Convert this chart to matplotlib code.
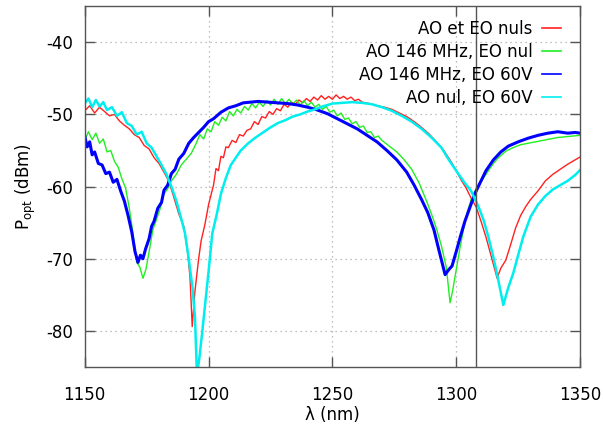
import matplotlib
matplotlib.use("Agg")
import matplotlib.pyplot as plt

plt.rcParams['font.family'] = ['DejaVu Sans']
plt.rcParams['axes.unicode_minus'] = False

labels = ["AO et EO nuls", "AO 146 MHz, EO nul", "AO 146 MHz, EO 60V", "AO nul, EO 60V"]

red_pts = [(1150, -49.5), (1152, -48.8), (1154, -49.8), (1156, -49.0), (1158, -49.6), (1160, -50.2),
           (1162, -50.0), (1164, -50.9), (1166, -51.5), (1168, -52.0), (1170, -52.8), (1172, -53.2),
           (1174, -54.3), (1176, -54.8), (1178, -56.0), (1180, -56.8), (1182, -58.0), (1184, -59.3),
           (1186, -61.5), (1188, -63.8), (1190, -65.5), (1191.5, -69.0), (1192.5, -72.5), (1193.4, -79.4),
           (1194.5, -74.5), (1196, -70.0), (1197, -67.5), (1198.5, -65.3), (1200, -62.5),
           (1202, -59.8), (1203, -57.5), (1204, -57.8), (1205, -55.8), (1206, -56.0), (1207, -54.5),
           (1208, -54.6), (1209.5, -53.6), (1211, -53.9), (1212.5, -52.8), (1214, -53.0), (1215.5, -52.2),
           (1217, -52.0), (1218.5, -51.0), (1220, -51.4), (1221.5, -50.3), (1223, -50.5), (1224.5, -49.6),
           (1226, -50.0), (1227.5, -49.2), (1229, -49.5), (1230.5, -48.6), (1232, -49.0), (1233.5, -48.3),
           (1235, -48.6), (1236.5, -48.0), (1238, -48.4), (1239.5, -47.8), (1241, -48.2), (1242.5, -47.6),
           (1244, -48.0), (1245.5, -47.4), (1247, -47.9), (1248.5, -47.5), (1250, -47.9), (1251.5, -47.3),
           (1253, -47.8), (1254.5, -47.5), (1256, -47.9), (1257.5, -47.6), (1259, -48.1), (1260.5, -47.9),
           (1262, -48.3), (1265, -48.5),
           (1268, -48.8), (1271, -49.0), (1274, -49.3), (1277, -49.8), (1280, -50.3), (1283, -51.0),
           (1286, -51.8), (1289, -52.7), (1292, -53.8), (1295, -55.0), (1298, -56.6), (1300, -57.8),
           (1302, -59.1), (1304, -60.2), (1306, -61.6), (1308, -62.8), (1310, -64.8), (1312, -67.0),
           (1314, -69.5), (1316.5, -72.7), (1318, -71.3), (1320, -70.2), (1322, -68.0), (1324, -65.7),
           (1326, -64.0), (1328, -62.8), (1330, -61.8), (1333, -60.6), (1336, -59.2), (1339, -58.3),
           (1342, -57.6), (1345, -56.9), (1348, -56.3), (1350, -55.9)]

green_pts = [(1150, -53.6), (1151.5, -52.4), (1153, -53.5), (1154.5, -52.6), (1156, -54.0), (1157.5, -53.4),
             (1159, -55.2), (1160.5, -55.0), (1162, -56.5), (1163.5, -57.3), (1165, -58.9), (1166.5, -60.2),
             (1168, -63.0), (1169.5, -66.5), (1171, -70.5), (1172.3, -71.2), (1173.5, -72.7), (1174.7, -71.5),
             (1176, -69.0), (1177.5, -66.0), (1179, -64.5), (1180.5, -63.0), (1182, -61.0), (1183.5, -60.3),
             (1185, -59.2), (1187, -58.3), (1189, -57.0), (1191, -56.2), (1193, -55.4),
             (1195, -54.0), (1196.5, -52.8), (1198, -53.4), (1199.5, -52.0), (1201, -52.4), (1202.5, -51.0),
             (1204, -51.5), (1205.5, -50.4), (1207, -50.9), (1208.5, -49.6), (1210, -50.2), (1211.5, -49.3),
             (1213, -49.8), (1214.5, -48.9), (1216, -49.4), (1217.5, -48.5), (1219, -49.1), (1220.5, -48.3),
             (1222, -48.9), (1223.5, -48.1), (1225, -48.7), (1226.5, -47.9), (1228, -48.6), (1229.5, -47.8),
             (1231, -48.5), (1232.5, -47.9), (1234, -48.6), (1235.5, -48.0), (1237, -48.7), (1238.5, -48.1),
             (1240, -48.8), (1241.5, -48.3), (1243, -49.0), (1244.5, -48.6), (1246, -49.3), (1247.5, -48.9),
             (1249, -49.7), (1250.5, -49.4), (1252, -50.2), (1253.5, -49.8), (1255, -50.7), (1256.5, -50.5),
             (1258, -51.3), (1259.5, -51.0), (1261, -51.8), (1262.5, -51.6), (1264, -52.5), (1265.5, -52.4),
             (1267, -53.2), (1268.5, -53.0), (1270, -53.6), (1273, -54.4), (1276, -55.2), (1279, -56.3),
             (1282, -57.6), (1285, -59.5), (1288, -62.0), (1290, -63.8), (1292, -65.8), (1294, -68.2),
             (1296, -71.2), (1297.5, -76.1), (1298.5, -74.5), (1300, -71.5), (1301.5, -68.5), (1303, -65.8),
             (1304.5, -63.5), (1306, -61.8), (1307.5, -60.7), (1309, -59.8), (1311, -58.8), (1313, -57.8),
             (1315, -56.8), (1317, -56.0), (1320, -55.1), (1323, -54.6), (1326, -54.2), (1329, -54.0),
             (1332, -53.8), (1335, -53.6), (1338, -53.4), (1341, -53.2), (1344, -53.1), (1347, -53.0),
             (1350, -52.9)]

blue_pts = [(1150, -53.0), (1151, -54.5), (1152, -53.8), (1153, -55.6), (1154, -55.2), (1155.5, -56.8),
            (1157, -57.0), (1158.5, -58.2), (1160, -58.0), (1161.5, -59.4), (1163, -59.0), (1164.5, -60.6),
            (1166, -62.0), (1167.5, -64.0), (1169, -66.3), (1170.3, -69.0), (1171.5, -70.5), (1172.5, -69.5),
            (1173.5, -70.0), (1174.6, -68.6), (1176, -67.2), (1177, -65.5), (1178, -64.8), (1179.5, -63.0),
            (1181, -62.2), (1182, -60.5), (1183.5, -59.8), (1185, -58.2), (1186.5, -57.6), (1188, -56.2),
            (1190, -55.4), (1192, -54.0), (1194, -53.2), (1196, -52.5), (1198, -51.8), (1200, -51.0),
            (1202, -50.6), (1205, -49.7), (1208, -49.1), (1211, -48.8), (1214, -48.4), (1217, -48.3),
            (1220, -48.2), (1224, -48.3), (1228, -48.4), (1232, -48.5), (1236, -48.7), (1240, -49.0),
            (1244, -49.4), (1248, -49.9), (1252, -50.6), (1256, -51.3), (1260, -52.0), (1264, -52.9),
            (1268, -53.8), (1272, -55.0), (1276, -56.3), (1280, -58.0), (1283, -59.8), (1286, -61.8),
            (1288.5, -63.6), (1291, -66.0), (1293, -68.8), (1295.5, -72.2), (1297, -71.5), (1298.3, -71.0),
            (1300, -69.0), (1301.6, -67.0), (1303.5, -64.8), (1305.6, -62.8), (1307.5, -61.0), (1309.6, -59.5),
            (1312, -57.8), (1315, -56.3), (1318, -55.2), (1321, -54.4), (1325, -53.8), (1329, -53.3),
            (1333, -52.9), (1337, -52.6), (1341, -52.4), (1345, -52.6), (1348, -52.5), (1350, -52.6)]

cyan_pts = [(1150, -48.5), (1151.5, -47.8), (1153, -49.0), (1154.5, -48.0), (1156, -48.9), (1157.5, -48.3),
            (1159, -49.4), (1161, -49.0), (1163, -50.2), (1165, -49.7), (1167, -51.2), (1169, -51.6),
            (1171, -52.8), (1173, -52.4), (1175, -54.0), (1177, -54.6), (1179, -55.8), (1181, -57.0),
            (1183, -58.3), (1185, -60.0), (1187, -62.0), (1189, -64.5), (1190.5, -66.5), (1192, -70.0),
            (1193.5, -74.0), (1194.5, -78.0), (1195.3, -86.0), (1196.2, -84.0), (1197.4, -80.3), (1198.8, -75.7),
            (1200.2, -71.1), (1201.5, -66.5), (1203.4, -63.7), (1205, -61.0), (1207, -58.8), (1209, -57.0),
            (1211, -56.0), (1213, -55.0), (1216, -54.0), (1219, -53.2), (1222, -52.5), (1225, -51.8),
            (1228, -51.2), (1231, -50.8), (1234, -50.3), (1237, -50.0), (1240, -49.6), (1243, -49.3),
            (1246, -48.9), (1250, -48.5), (1254, -48.4), (1258, -48.3), (1262, -48.4), (1266, -48.6),
            (1270, -49.0), (1274, -49.5), (1278, -50.2), (1282, -51.0), (1286, -52.0), (1290, -53.2),
            (1294, -54.6), (1297, -56.3), (1300, -57.8), (1303, -59.3), (1306, -60.6), (1309, -62.8),
            (1311, -64.6), (1313, -67.0), (1315, -69.8), (1317, -73.0), (1319, -76.4), (1321, -74.0),
            (1323, -72.0), (1325, -69.5), (1327, -67.0), (1330, -64.2), (1333, -62.5), (1336, -61.3),
            (1339, -60.4), (1342, -59.8), (1345, -59.2), (1348, -58.4), (1350, -57.7)]

series = [red_pts, green_pts, blue_pts, cyan_pts]
colors = ["#ff2020", "#22ee22", "#0000ff", "#00eeee"]
widths = [1.0, 1.0, 2.2, 1.8]

x_ticks = [1150, 1200, 1250, 1300, 1350]
y_ticks = [-40, -50, -60, -70, -80]
marker_lambda = 1308

fig = plt.figure(figsize=(6.03, 4.38), dpi=100)
ax = fig.add_axes([0.1405, 0.162, 0.8215, 0.824])

for pts, c, w, lab in zip(series, colors, widths, labels):
    xs = [p[0] for p in pts]
    ys = [p[1] for p in pts]
    ax.plot(xs, ys, color=c, lw=w, label=lab)

ax.axvline(marker_lambda, color="#555555", lw=1.0)

ax.set_xlim(1150, 1350)
ax.set_ylim(-85, -35)
ax.set_xticks(x_ticks)
ax.set_yticks(y_ticks)
ax.grid(True, color="#aaaaaa", linestyle=(0, (1, 3)), lw=0.9)
ax.tick_params(direction='in', top=True, right=True, length=7, width=1,
               color="#555555", labelsize=12)
ax.tick_params(axis='y', pad=8)
ax.tick_params(axis='x', pad=14)
for s in ax.spines.values():
    s.set_color("#555555")
    s.set_linewidth(1.0)

ax.set_xlabel("λ (nm)", fontsize=12, labelpad=1)
ax.set_ylabel(r"P$_{\mathrm{opt}}$ (dBm)", fontsize=12, labelpad=6)

leg = ax.legend(loc='upper right', bbox_to_anchor=(0.981, 0.99), frameon=False, markerfirst=False,
                fontsize=12, handlelength=1.1, handletextpad=0.6, labelspacing=0.3,
                borderaxespad=0.2)
for ln in leg.get_lines():
    ln.set_linewidth(1.2)

fig.savefig("out.png", dpi=100)
